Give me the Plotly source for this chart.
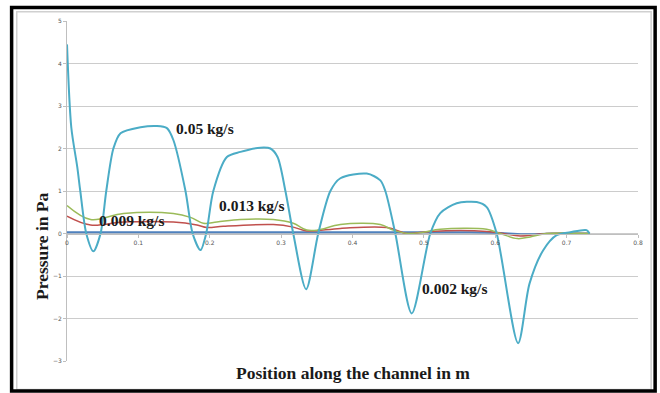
import plotly.graph_objects as go

# Data
x_aqua = [0, 0.006, 0.0144, 0.0186, 0.027, 0.037, 0.047, 0.055, 0.065, 0.075, 0.103, 0.126, 0.140,
          0.149, 0.166, 0.176, 0.187, 0.195, 0.205, 0.224, 0.243, 0.271, 0.285, 0.295, 0.306, 0.317,
          0.335, 0.352, 0.369, 0.383, 0.420, 0.439, 0.446, 0.460, 0.483, 0.509, 0.523, 0.546, 0.574,
          0.588, 0.602, 0.632, 0.648, 0.667, 0.686, 0.705, 0.728, 0.732]
y_aqua = [4.45, 2.5, 1.56, 1.0, 0.0, -0.42, 0.0, 1.0, 2.0, 2.36, 2.5, 2.53, 2.48,
          2.2, 1.0, 0.0, -0.39, 0.0, 1.0, 1.8, 1.92, 2.02, 2.0, 1.8, 1.0, 0.0,
          -1.31, 0.0, 1.0, 1.3, 1.41, 1.25, 1.0, 0.0, -1.88, 0.0, 0.48, 0.71, 0.74,
          0.62, 0.0, -2.58, -1.18, -0.4, -0.04, 0.03, 0.08, 0.0]

x_green = [0, 0.033, 0.079, 0.149, 0.173, 0.191, 0.210, 0.243, 0.289, 0.317, 0.336, 0.351, 0.383,
           0.439, 0.457, 0.477, 0.499, 0.523, 0.588, 0.607, 0.631, 0.649, 0.672, 0.732]
y_green = [0.66, 0.33, 0.47, 0.47, 0.38, 0.24, 0.27, 0.33, 0.33, 0.24, 0.08, 0.08, 0.21,
           0.21, 0.08, 0.0, 0.03, 0.10, 0.10, 0.0, -0.12, -0.08, 0.0, 0.0]

x_red = [0, 0.033, 0.079, 0.149, 0.182, 0.196, 0.219, 0.289, 0.317, 0.336, 0.383, 0.448,
         0.477, 0.509, 0.588, 0.611, 0.635, 0.672, 0.732]
y_red = [0.41, 0.20, 0.27, 0.27, 0.20, 0.14, 0.17, 0.21, 0.15, 0.06, 0.12, 0.14,
         0.0, 0.05, 0.05, 0.0, -0.06, 0.0, 0.0]

x_blue = [0, 0.2, 0.4, 0.55, 0.6, 0.64, 0.68, 0.732]
y_blue = [0.03, 0.03, 0.03, 0.03, 0.02, -0.02, 0.0, 0.0]

x_ticks = [0, 0.1, 0.2, 0.3, 0.4, 0.5, 0.6, 0.7, 0.8]
x_tick_text = ["0", "0.1", "0.2", "0.3", "0.4", "0.5", "0.6", "0.7", "0.8"]
y_ticks = [-3, -2, -1, 0, 1, 2, 3, 4, 5]

labels = ["0.05 kg/s", "0.013 kg/s", "0.009 kg/s", "0.002 kg/s"]
label_x = [0.150, 0.210, 0.042, 0.494]
label_y = [2.48, 0.67, 0.31, -1.29]

fig = go.Figure()
fig.add_trace(go.Scatter(x=x_blue, y=y_blue, mode="lines", line=dict(color="#4F81BD", width=2, shape="spline")))
fig.add_trace(go.Scatter(x=x_red, y=y_red, mode="lines", line=dict(color="#C0504D", width=1.5, shape="spline")))
fig.add_trace(go.Scatter(x=x_green, y=y_green, mode="lines", line=dict(color="#9BBB59", width=1.5, shape="spline")))
fig.add_trace(go.Scatter(x=x_aqua, y=y_aqua, mode="lines", line=dict(color="#4BACC6", width=2, shape="spline", smoothing=0.8)))

for t, lx, ly in zip(labels, label_x, label_y):
    fig.add_annotation(x=lx, y=ly, text="<b>" + t + "</b>", showarrow=False, xanchor="left",
                       font=dict(family="Liberation Serif", size=15.5, color="#1a1a1a"))

fig.add_annotation(xref="paper", yref="paper", x=0.5, y=-0.035, yanchor="middle",
                   text="<b>Position along the channel in m</b>", showarrow=False,
                   font=dict(family="Liberation Serif", size=17.5, color="#1a1a1a"))
fig.add_annotation(xref="paper", yref="paper", x=-0.044, y=0.338, textangle=-90,
                   xanchor="center", yanchor="middle",
                   text="<b>Pressure in Pa</b>", showarrow=False,
                   font=dict(family="Liberation Serif", size=17.5, color="#1a1a1a"))

# frames
fig.add_shape(type="rect", xref="paper", yref="paper", x0=-0.088, x1=1.023, y0=-0.084, y1=1.027,
              line=dict(color="#d0d0d0", width=1.5), layer="below")
fig.add_shape(type="rect", xref="paper", yref="paper", x0=-0.097, x1=1.030, y0=-0.088, y1=1.04,
              line=dict(color="black", width=3.5), layer="above")

fig.update_layout(
    width=660, height=393,
    margin=dict(l=67, r=22, t=21, b=32),
    paper_bgcolor="white", plot_bgcolor="white",
    showlegend=False,
    xaxis=dict(range=[0, 0.8], tickvals=x_ticks, ticktext=x_tick_text, showgrid=False,
               zeroline=False, showline=True, linecolor="#bfbfbf", linewidth=1,
               ticks="outside", ticklen=3, tickcolor="#bfbfbf",
               anchor="free", position=0.375,
               tickfont=dict(family="DejaVu Sans", size=6, color="#555555")),
    yaxis=dict(range=[-3, 5], tickvals=y_ticks, showgrid=True, gridcolor="#cccccc", gridwidth=1,
               zeroline=False, showline=True, linecolor="#bfbfbf", linewidth=1,
               ticks="outside", ticklen=3, tickcolor="#bfbfbf",
               tickfont=dict(family="DejaVu Sans", size=6, color="#555555")),
)

fig.write_html("out.html")
